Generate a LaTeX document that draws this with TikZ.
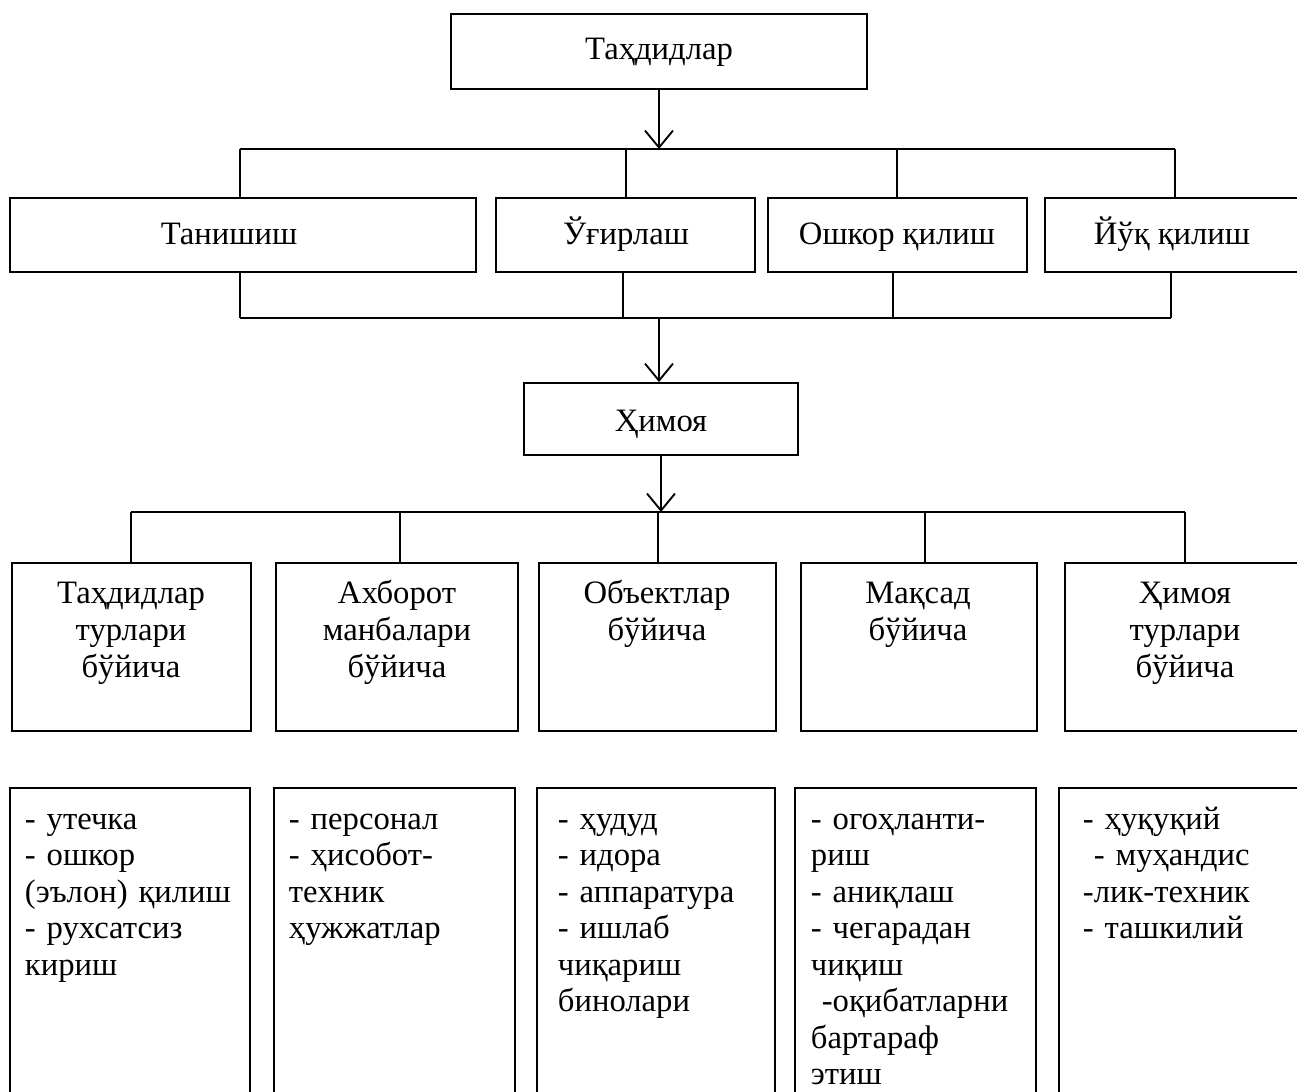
\documentclass[tikz,border=0pt]{standalone}
\usepackage{fontspec}
\setmainfont{Liberation Serif}
\usetikzlibrary{arrows.meta,fit}
\begin{document}
\begin{tikzpicture}[x=0.75pt,y=-0.75pt,line width=1.4pt,
  boxst/.style={draw,line width=1.4pt,inner sep=0pt},
  lbl/.style={font=\fontsize{24.5}{27.75}\selectfont,inner sep=0pt},
  one/.style={lbl,anchor=base},
  multi/.style={lbl,anchor=base,align=center,text width=210pt},
  list/.style={lbl,font=\fontsize{24.5}{27.4}\selectfont,anchor=base west,align=left,text width=175pt},
  arr/.style={-{Straight Barb[length=12.75pt,width=21pt,line width=1.4pt]}}]
\useasboundingbox (0,0) rectangle (1297,1092);
\clip (0,0) rectangle (1297,1092);
% top box
\node[boxst,fit={(451,14)(867,89)}] (top) {};
\node[one] (topT) at (659,60) {Таҳдидлар};
% row 2
\node[boxst,fit={(10,198)(476,272)}] (r1) {};
\node[boxst,fit={(496,198)(755,272)}] (r2) {};
\node[boxst,fit={(768,198)(1027,272)}] (r3) {};
\node[boxst,fit={(1045,198)(1305,272)}] (r4) {};
\node[one] (r1T) at (229,244) {Танишиш};
\node[one] (r2T) at (626,244) {Ўғирлаш};
\node[one] (r3T) at (897,244) {Ошкор қилиш};
\node[one] (r4T) at (1172,244) {Йўқ қилиш};
% bus 1
\coordinate (j1) at (240,149);
\coordinate (j2) at (626,149);
\coordinate (j3) at (897,149);
\coordinate (j4) at (1175,149);
\draw[arr] (top.south) -- (top.south |- j1);
\draw (j1) -- (j4);
\draw (j1) -- (j1 |- r1.north);
\draw (j2) -- (j2 |- r2.north);
\draw (j3) -- (j3 |- r3.north);
\draw (j4) -- (j4 |- r4.north);
% himoya
\node[boxst,fit={(524,383)(798,455)}] (him) {};
\node[one] (himT) at (661,431) {Ҳимоя};
% bus 2
\coordinate (k1) at (240,318);
\coordinate (k2) at (623,318);
\coordinate (k3) at (893,318);
\coordinate (k4) at (1171,318);
\coordinate (k0) at (659,318);
\draw (k1 |- r1.south) -- (k1);
\draw (k2 |- r2.south) -- (k2);
\draw (k3 |- r3.south) -- (k3);
\draw (k4 |- r4.south) -- (k4);
\draw (k1) -- (k4);
\draw[arr] (k0) -- (k0 |- him.north);
% row 4
\node[boxst,fit={(12,563)(251,731)}] (c1) {};
\node[boxst,fit={(276,563)(518,731)}] (c2) {};
\node[boxst,fit={(539,563)(776,731)}] (c3) {};
\node[boxst,fit={(801,563)(1037,731)}] (c4) {};
\node[boxst,fit={(1065,563)(1310,731)}] (c5) {};
\node[multi] (c1T) at (131,603) {Таҳдидлар\\турлари\\бўйича};
\node[multi] (c2T) at (397,603) {Ахборот\\манбалари\\бўйича};
\node[multi] (c3T) at (657,603) {Объектлар\\бўйича};
\node[multi] (c4T) at (918,603) {Мақсад\\бўйича};
\node[multi] (c5T) at (1185,603) {Ҳимоя\\турлари\\бўйича};
% bus 3
\coordinate (m1) at (131,512);
\coordinate (m2) at (400,512);
\coordinate (m3) at (658,512);
\coordinate (m4) at (925,512);
\coordinate (m5) at (1185,512);
\draw[arr] (him.south) -- (him.south |- m1);
\draw (m1) -- (m5);
\draw (m1) -- (m1 |- c1.north);
\draw (m2) -- (m2 |- c2.north);
\draw (m3) -- (m3 |- c3.north);
\draw (m4) -- (m4 |- c4.north);
\draw (m5) -- (m5 |- c5.north);
% bottom row
\node[boxst,fit={(10,788)(250,1110)}] (d1) {};
\node[boxst,fit={(274,788)(515,1110)}] (d2) {};
\node[boxst,fit={(537,788)(775,1110)}] (d3) {};
\node[boxst,fit={(795,788)(1036,1110)}] (d4) {};
\node[boxst,fit={(1059,788)(1310,1110)}] (d5) {};
\node[list] (d1T) at (24,829) {- утечка\\- ошкор\\(эълон) қилиш\\- рухсатсиз\\кириш};
\node[list] (d2T) at (288,829) {- персонал\\- ҳисобот-\\техник\\ҳужжатлар};
\node[list] (d3T) at (557,829) {- ҳудуд\\- идора\\- аппаратура\\- ишлаб\\чиқариш\\бинолари};
\node[list] (d4T) at (810,829) {- огоҳланти-\\риш\\- аниқлаш\\- чегарадан\\чиқиш\\\ -оқибатларни\\бартараф\\этиш};
\node[list] (d5T) at (1082,829) {- ҳуқуқий\\\ - муҳандис\\-лик-техник\\- ташкилий};
\end{tikzpicture}
\end{document}
